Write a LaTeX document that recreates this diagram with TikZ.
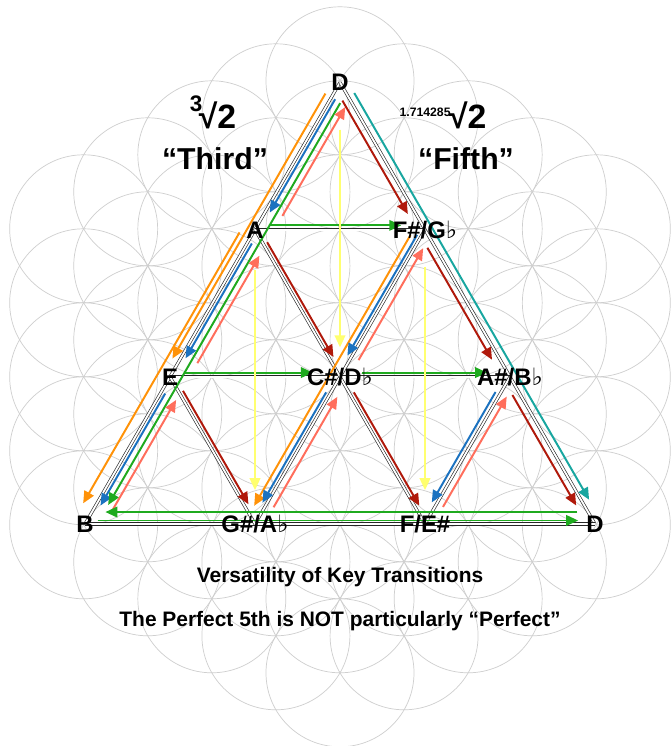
\documentclass[tikz,border=0pt]{standalone}
\usepackage{fontspec}
\setmainfont{Liberation Sans}
\newfontfamily\flatfont{DejaVu Sans}
\usetikzlibrary{arrows.meta, calc, backgrounds}
\definecolor{keyorange}{HTML}{FF9208}
\definecolor{keyblue}{HTML}{1B72C0}
\definecolor{keygreen}{HTML}{1FAA1F}
\definecolor{keysalmon}{HTML}{FF6E5C}
\definecolor{keyred}{HTML}{B0190B}
\definecolor{keyteal}{HTML}{18A6A0}
\definecolor{keyyellow}{HTML}{FFFF70}
\newcommand{\flt}{{\flatfont\mdseries ♭}}
% offset arrow along a pair of nodes: style, from, to, start, end, side offset
\newcommand{\lane}[6]{%
  \draw[#1] ($(#2)!#4!(#3)!#6!90:(#3)$) -- ($(#2)!#5!(#3)!#6!-90:(#2)$);}
\tikzset{
  vlabel/.style   = {font=\bfseries\fontsize{17}{20}\selectfont, inner sep=0pt,
                     text height=12.2pt, text depth=0pt},
  rootlbl/.style  = {font=\bfseries\fontsize{24}{28}\selectfont, inner sep=0pt, anchor=base},
  quotelbl/.style = {font=\bfseries\fontsize{21.5}{25}\selectfont, inner sep=0pt, anchor=base},
  caption/.style  = {font=\bfseries\fontsize{14.9}{18}\selectfont, inner sep=0pt, anchor=base},
  petal/.style    = {draw=black!19, line width=0.5pt},
  edge/.style     = {draw=black!85, line width=0.45pt, double=white, double distance=1.3pt},
  lanearr/.style  = {line width=1.4pt, -{Triangle[length=8.5pt, width=7.5pt]}},
  orng/.style     = {lanearr, draw=keyorange, fill=keyorange},
  blu/.style      = {lanearr, draw=keyblue, fill=keyblue},
  grn/.style      = {lanearr, draw=keygreen, fill=keygreen},
  slm/.style      = {lanearr, draw=keysalmon, fill=keysalmon},
  drd/.style      = {lanearr, draw=keyred, fill=keyred},
  tel/.style      = {lanearr, draw=keyteal, fill=keyteal},
  ylw/.style      = {lanearr, draw=keyyellow, fill=keyyellow},
}

\begin{document}
\begin{tikzpicture}

% =============== KEY NODES ===============
\node (nDt) [vlabel] at (0,7.36)         {D};
\node (nA)  [vlabel] at (-2.125,3.68)    {A};
\node (nFs) [vlabel] at (2.125,3.68)     {F\#/G\flt};
\node (nE)  [vlabel] at (-4.25,0)        {E};
\node (nCs) [vlabel] at (0,0)            {C\#/D\flt};
\node (nAs) [vlabel] at (4.25,0)         {A\#/B\flt};
\node (nB)  [vlabel] at (-6.375,-3.68)   {B};
\node (nGs) [vlabel] at (-2.125,-3.68)   {G\#/A\flt};
\node (nF)  [vlabel] at (2.125,-3.68)    {F/E\#};
\node (nDb) [vlabel] at (6.375,-3.68)    {D};

% =============== TITLES ===============
\node (rootL) [rootlbl] at (-3.175,6.2) {\raisebox{12.5pt}{\fontsize{16}{16}\selectfont 3}\kern-2.5pt√2};
\node (third) [quotelbl] at (-3.125,5.17) {“Third”};
\node (rootR) [rootlbl] at (2.575,6.2) {\raisebox{9pt}{\fontsize{8.7}{9}\selectfont 1.714285}\kern-1pt√2};
\node (fifth) [quotelbl] at (3.15,5.17) {“Fifth”};

\node (cap1) [caption] at (0,-5.13) {Versatility of Key Transitions};
\node (cap2) [caption] at (0,-6.25) {The Perfect 5th is NOT particularly “Perfect”};

\begin{scope}[on background layer]
\fill[white] (-8.5,-9.23) rectangle (8.275,9.42);
\useasboundingbox (-8.5,-9.23) rectangle (8.275,9.42);

% flower pattern
\foreach \i in {-4,...,4}{
  \foreach \j in {-4,...,4}{
    \pgfmathtruncatemacro{\hd}{abs(\i)+abs(\j)+abs(\i+\j)}
    \ifnum\hd<9
      \draw[petal] ({\i*0.8660*1.85},{(\j+0.5*\i)*1.85}) circle (1.85);
    \fi
  }
}

% triangle grid
\foreach \u/\v in {nDt/nB, nDt/nDb, nB/nDb, nA/nFs, nE/nAs, nFs/nGs, nAs/nF, nA/nF, nE/nGs}
  \draw[edge] (\u.center) -- (\v.center);

% =============== LEFT SIDE ===============
\lane{orng}{nDt}{nE}{0.05}{0.95}{-5pt}
\lane{orng}{nA}{nB}{0.03}{0.95}{-8.5pt}
\lane{blu}{nDt}{nA}{0.1}{0.87}{3pt}
\lane{blu}{nA}{nE}{0.08}{0.86}{3pt}
\lane{blu}{nE}{nB}{0.1}{0.86}{3pt}
\lane{grn}{nDt}{nB}{0.035}{0.945}{7.5pt}
\lane{slm}{nB}{nE}{0.15}{0.9}{-12pt}
\lane{slm}{nE}{nA}{0.15}{0.88}{-12pt}
\lane{slm}{nA}{nDt}{0.15}{0.89}{-12pt}

% =============== MIDDLE ===============
\lane{orng}{nFs}{nGs}{0.035}{0.955}{-7pt}
\lane{blu}{nFs}{nCs}{0.05}{0.87}{-3pt}
\lane{blu}{nCs}{nGs}{0.12}{0.87}{-3pt}
\lane{slm}{nGs}{nCs}{0.14}{0.89}{-5.5pt}
\lane{slm}{nCs}{nFs}{0.14}{0.9}{-5.5pt}
\lane{blu}{nAs}{nF}{0.12}{0.87}{-3.5pt}
\lane{slm}{nF}{nAs}{0.14}{0.89}{-5pt}
\lane{drd}{nA}{nCs}{0.1}{0.88}{3pt}
\lane{drd}{nE}{nGs}{0.11}{0.88}{3pt}
\lane{drd}{nCs}{nF}{0.12}{0.89}{3pt}

% =============== RIGHT SIDE ===============
\lane{drd}{nDt}{nFs}{0.1}{0.87}{-5pt}
\lane{drd}{nFs}{nAs}{0.1}{0.86}{-5pt}
\lane{drd}{nAs}{nDb}{0.1}{0.85}{-5pt}
\lane{tel}{nDt}{nDb}{0.032}{0.953}{5pt}

% =============== ROWS ===============
\lane{grn}{nA}{nFs}{0.08}{0.86}{3pt}
\lane{grn}{nE}{nCs}{0.09}{0.84}{3pt}
\lane{grn}{nCs}{nAs}{0.13}{0.865}{3pt}
\lane{grn}{nB}{nDb}{0.025}{0.967}{2.5pt}
\lane{grn}{nDb}{nB}{0.035}{0.96}{-8.5pt}

% =============== VERTICALS ===============
\lane{ylw}{nDt}{nCs}{0.16}{0.9}{0pt}
\lane{ylw}{nA}{nGs}{0.137}{0.885}{0pt}
\lane{ylw}{nFs}{nF}{0.127}{0.885}{0pt}
\end{scope}

\end{tikzpicture}
\end{document}
